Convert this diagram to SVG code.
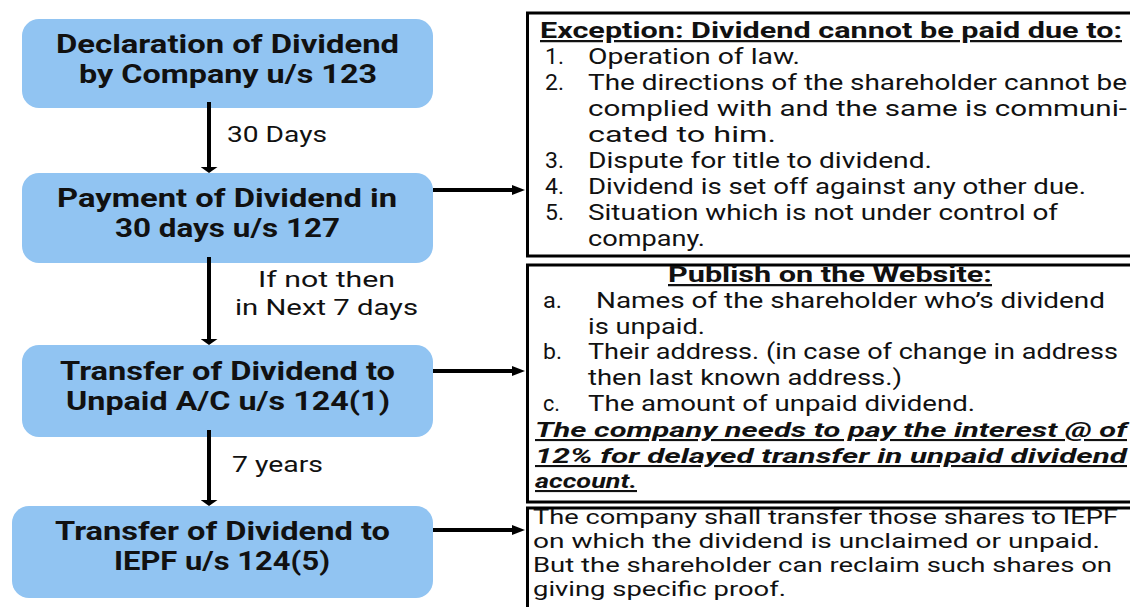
<svg xmlns="http://www.w3.org/2000/svg" width="1130" height="607" viewBox="0 0 1130 607">
  <style>
    text { font-family: Roboto, "Open Sans", "DejaVu Sans", sans-serif; fill: #111; }
    .node rect { fill: #91c4f2; }
    .node text { font-weight: 700; font-size: 25px; }
    .lbl { font-size: 22px; }
    .panel rect { fill: #fff; stroke: #000; stroke-width: 3; }
    .body { font-size: 21.5px; }
    .small { font-size: 20px; }
    .head { font-size: 22.5px; font-weight: 700; text-decoration: underline; }
    .note { font-size: 21px; font-weight: 700; font-style: italic; text-decoration: underline; }
    .conn line { stroke: #000; stroke-width: 4; }
  </style>
  <defs>
    <marker id="headV" viewBox="0 0 6 17" refX="0" refY="8.5" markerWidth="6" markerHeight="17" markerUnits="userSpaceOnUse" orient="auto">
      <path d="M0,0 L6,8.5 L0,17 Z" fill="#000"/>
    </marker>
    <marker id="headH" viewBox="0 0 13 10" refX="0" refY="5" markerWidth="13" markerHeight="10" markerUnits="userSpaceOnUse" orient="auto">
      <path d="M0,0 L13,5 L0,10 Z" fill="#000"/>
    </marker>
  </defs>

  <rect width="1130" height="607" fill="#fff"/>

  <!-- flow steps -->
  <g id="step-declaration" class="node">
    <rect x="22" y="19" width="411" height="89" rx="17"/>
    <text x="56" y="53" textLength="343" lengthAdjust="spacingAndGlyphs">Declaration of Dividend</text>
    <text x="79" y="83" textLength="298" lengthAdjust="spacingAndGlyphs">by Company u/s 123</text>
  </g>
  <g id="step-payment" class="node">
    <rect x="22" y="173" width="411" height="90" rx="17"/>
    <text x="57" y="207" textLength="340" lengthAdjust="spacingAndGlyphs">Payment of Dividend in</text>
    <text x="115" y="237" textLength="225" lengthAdjust="spacingAndGlyphs">30 days u/s 127</text>
  </g>
  <g id="step-unpaid" class="node">
    <rect x="22" y="345" width="411" height="92" rx="17"/>
    <text x="60" y="380" textLength="335" lengthAdjust="spacingAndGlyphs">Transfer of Dividend to</text>
    <text x="66" y="410" textLength="324" lengthAdjust="spacingAndGlyphs">Unpaid A/C u/s 124(1)</text>
  </g>
  <g id="step-iepf" class="node">
    <rect x="12" y="506" width="421" height="92" rx="17"/>
    <text x="55" y="540" textLength="335" lengthAdjust="spacingAndGlyphs">Transfer of Dividend to</text>
    <text x="114" y="570" textLength="216" lengthAdjust="spacingAndGlyphs">IEPF u/s 124(5)</text>
  </g>

  <!-- connectors -->
  <g id="connectors" class="conn">
    <line x1="209" y1="102" x2="209" y2="167" marker-end="url(#headV)"/>
    <line x1="209" y1="257" x2="209" y2="339" marker-end="url(#headV)"/>
    <line x1="209" y1="430" x2="209" y2="500" marker-end="url(#headV)"/>
    <line x1="433" y1="190" x2="512" y2="190" marker-end="url(#headH)"/>
    <line x1="433" y1="371" x2="512" y2="371" marker-end="url(#headH)"/>
    <line x1="433" y1="530" x2="512" y2="530" marker-end="url(#headH)"/>
  </g>

  <!-- connector labels -->
  <g id="labels">
    <text class="lbl" x="227" y="142" textLength="100" lengthAdjust="spacingAndGlyphs">30 Days</text>
    <text class="lbl" x="258" y="287" textLength="137" lengthAdjust="spacingAndGlyphs">If not then</text>
    <text class="lbl" x="235" y="315" textLength="183" lengthAdjust="spacingAndGlyphs">in Next 7 days</text>
    <text class="lbl" x="232" y="472" textLength="91" lengthAdjust="spacingAndGlyphs">7 years</text>
  </g>

  <!-- exceptions box -->
  <g id="panel-exceptions" class="panel">
    <rect x="527.5" y="13" width="606" height="243"/>
    <text class="head" x="540" y="38" textLength="582" lengthAdjust="spacingAndGlyphs">Exception: Dividend cannot be paid due to:</text>
    <text class="body" x="545" y="64" textLength="19" lengthAdjust="spacingAndGlyphs">1.</text>
    <text class="body" x="588" y="64" textLength="212" lengthAdjust="spacingAndGlyphs">Operation of law.</text>
    <text class="body" x="545" y="90" textLength="19" lengthAdjust="spacingAndGlyphs">2.</text>
    <text class="body" x="588" y="90" textLength="539" lengthAdjust="spacingAndGlyphs">The directions of the shareholder cannot be</text>
    <text class="body" x="588" y="116" textLength="539" lengthAdjust="spacingAndGlyphs">complied with and the same is communi-</text>
    <text class="body" x="588" y="142" textLength="188" lengthAdjust="spacingAndGlyphs">cated to him.</text>
    <text class="body" x="545" y="168" textLength="19" lengthAdjust="spacingAndGlyphs">3.</text>
    <text class="body" x="588" y="168" textLength="344" lengthAdjust="spacingAndGlyphs">Dispute for title to dividend.</text>
    <text class="body" x="545" y="194" textLength="19" lengthAdjust="spacingAndGlyphs">4.</text>
    <text class="body" x="588" y="194" textLength="498" lengthAdjust="spacingAndGlyphs">Dividend is set off against any other due.</text>
    <text class="body" x="545" y="220" textLength="19" lengthAdjust="spacingAndGlyphs">5.</text>
    <text class="body" x="588" y="220" textLength="470" lengthAdjust="spacingAndGlyphs">Situation which is not under control of</text>
    <text class="body" x="588" y="246" textLength="117" lengthAdjust="spacingAndGlyphs">company.</text>
  </g>

  <!-- website publication box -->
  <g id="panel-website" class="panel">
    <rect x="527.5" y="265" width="606" height="237"/>
    <text class="head" x="668" y="282" textLength="324" lengthAdjust="spacingAndGlyphs">Publish on the Website:</text>
    <text class="body" x="543" y="308" textLength="19" lengthAdjust="spacingAndGlyphs">a.</text>
    <text class="body" x="596" y="308" textLength="509" lengthAdjust="spacingAndGlyphs">Names of the shareholder who’s dividend</text>
    <text class="body" x="588" y="333.5" textLength="117" lengthAdjust="spacingAndGlyphs">is unpaid.</text>
    <text class="body" x="543" y="359" textLength="19" lengthAdjust="spacingAndGlyphs">b.</text>
    <text class="body" x="588" y="359" textLength="530" lengthAdjust="spacingAndGlyphs">Their address. (in case of change in address</text>
    <text class="body" x="588" y="385" textLength="314" lengthAdjust="spacingAndGlyphs">then last known address.)</text>
    <text class="body" x="543" y="411" textLength="17" lengthAdjust="spacingAndGlyphs">c.</text>
    <text class="body" x="588" y="411" textLength="387" lengthAdjust="spacingAndGlyphs">The amount of unpaid dividend.</text>
    <text class="note" x="535" y="437" textLength="592" lengthAdjust="spacingAndGlyphs">The company needs to pay the interest @ of</text>
    <text class="note" x="535" y="463" textLength="592" lengthAdjust="spacingAndGlyphs">12% for delayed transfer in unpaid dividend</text>
    <text class="note" x="535" y="488" textLength="102" lengthAdjust="spacingAndGlyphs">account.</text>
  </g>

  <!-- IEPF shares box -->
  <g id="panel-iepf" class="panel">
    <rect x="527.5" y="508" width="606" height="110"/>
    <text class="small" x="533" y="524" textLength="585" lengthAdjust="spacingAndGlyphs">The company shall transfer those shares to IEPF</text>
    <text class="small" x="533" y="548" textLength="567" lengthAdjust="spacingAndGlyphs">on which the dividend is unclaimed or unpaid.</text>
    <text class="small" x="533" y="572" textLength="579" lengthAdjust="spacingAndGlyphs">But the shareholder can reclaim such shares on</text>
    <text class="small" x="533" y="596" textLength="253" lengthAdjust="spacingAndGlyphs">giving specific proof.</text>
  </g>
</svg>
